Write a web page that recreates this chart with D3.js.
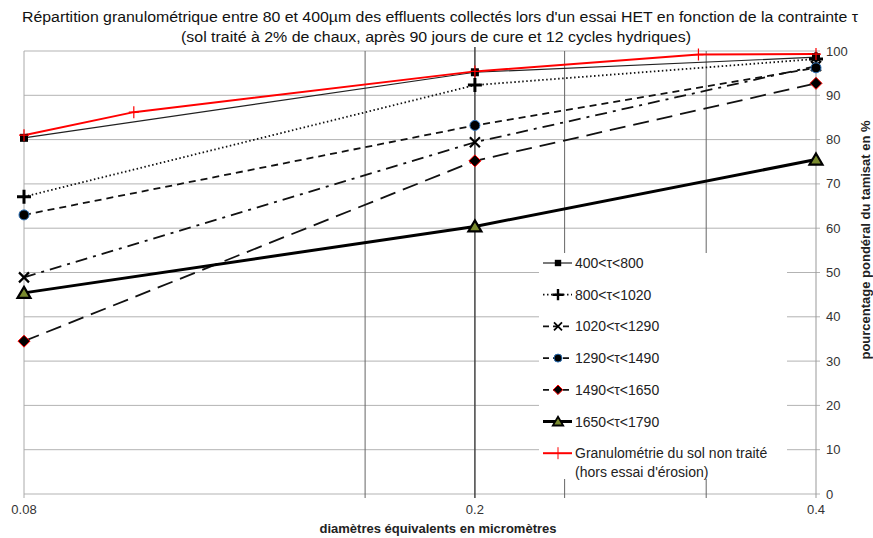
<!DOCTYPE html>
<html><head><meta charset="utf-8">
<script src="https://cdn.jsdelivr.net/npm/d3@7/dist/d3.min.js"></script>
<style>body{margin:0;background:#fff}svg{display:block;font-family:"Liberation Sans",Arial,sans-serif}</style>
</head><body><svg id="c" width="873" height="538"></svg>
<script>
const diameters = [0.08, 0.2, 0.4];
const s400_800   = [80.4, 95.2, 98.6];
const s800_1020  = [67.1, 92.3, 98.2];
const s1020_1290 = [48.9, 79.4, 96.6];
const s1290_1490 = [63.0, 83.2, 96.2];
const s1490_1650 = [34.5, 75.2, 92.7];
const s1650_1790 = [45.4, 60.4, 75.5];
const solDiameters = [0.08, 0.1, 0.2, 0.315, 0.4];
const solValues    = [81.0, 86.2, 95.4, 99.2, 99.3];
const yTicks = [0,10,20,30,40,50,60,70,80,90,100];
const xLabels = [0.08, 0.2, 0.4];
const xGrid = [0.16, 0.24, 0.32];
const labels = ["400<\u03c4<800","800<\u03c4<1020","1020<\u03c4<1290","1290<\u03c4<1490","1490<\u03c4<1650","1650<\u03c4<1790"];
const solLabel = ["Granulom\u00e9trie du sol non trait\u00e9","(hors essai d'\u00e9rosion)"];

const svg = d3.select("#c");
const L=24, R=816, T=51, B=494;
const x = d3.scaleLog().domain([0.08,0.4]).range([L,R]);
const y = d3.scaleLinear().domain([0,100]).range([B,T]);

// title
svg.append("text").attr("x",440).attr("y",22).attr("text-anchor","middle").attr("font-size",15.5).attr("fill","#111")
  .attr("textLength",836).attr("lengthAdjust","spacingAndGlyphs")
  .text("R\u00e9partition granulom\u00e9trique entre 80 et 400\u00b5m des effluents collect\u00e9s lors d'un essai HET en fonction de la contrainte \u03c4");
svg.append("text").attr("x",436).attr("y",42).attr("text-anchor","middle").attr("font-size",15.5).attr("fill","#111")
  .attr("textLength",510).attr("lengthAdjust","spacingAndGlyphs")
  .text("(sol trait\u00e9 \u00e0 2% de chaux, apr\u00e8s 90 jours de cure et 12 cycles hydriques)");

// horizontal grid
svg.append("g").selectAll("line").data(yTicks).join("line")
  .attr("x1",L).attr("x2",R+4).attr("y1",d=>y(d)).attr("y2",d=>y(d))
  .attr("stroke","#b3b3b3").attr("stroke-width",1);
// vertical grid
svg.append("g").selectAll("line").data(xGrid).join("line")
  .attr("x1",d=>x(d)).attr("x2",d=>x(d)).attr("y1",T).attr("y2",B+4)
  .attr("stroke","#666").attr("stroke-width",1);
svg.append("line").attr("x1",x(0.2)).attr("x2",x(0.2)).attr("y1",T-4).attr("y2",B+4).attr("stroke","#444").attr("stroke-width",1.5);
// axes lines
svg.append("line").attr("x1",L).attr("x2",L).attr("y1",T).attr("y2",B+4).attr("stroke","#aaa");
svg.append("line").attr("x1",R).attr("x2",R).attr("y1",T).attr("y2",B+4).attr("stroke","#999");

// legend background box
svg.append("rect").attr("x",539).attr("y",253).attr("width",248).attr("height",226).attr("fill","#fff");

// y labels
svg.append("g").selectAll("text").data(yTicks).join("text")
  .attr("x",R+10).attr("y",d=>y(d)+4.5).attr("font-size",13).attr("fill","#333").text(d=>d);
// x labels
svg.append("g").selectAll("text").data(xLabels).join("text")
  .attr("x",d=>x(d)).attr("y",514).attr("text-anchor","middle").attr("font-size",13).attr("fill","#333").text(d=>d);
svg.append("text").attr("x",438).attr("y",533).attr("text-anchor","middle").attr("font-size",13).attr("font-weight","bold").attr("fill","#222")
  .text("diam\u00e8tres \u00e9quivalents en microm\u00e8tres");
svg.append("text").attr("transform","translate(870,240) rotate(-90)").attr("text-anchor","middle").attr("font-size",13).attr("font-weight","bold").attr("fill","#222")
  .text("pourcentage pond\u00e9ral du tamisat en %");

const series = [
  {v:s400_800, w:1.2, dash:null, color:"#222", marker:"square"},
  {v:s800_1020, w:1.8, dash:"1.5,2.5", color:"#111", marker:"plus"},
  {v:s1020_1290, w:1.8, dash:"12,6,3,6", color:"#111", marker:"x"},
  {v:s1290_1490, w:1.8, dash:"7,5", color:"#111", marker:"circle"},
  {v:s1490_1650, w:1.8, dash:"16,8", color:"#111", marker:"diamond"},
  {v:s1650_1790, w:3, dash:null, color:"#000", marker:"triangle"}
];
const line = d3.line().x(d=>x(d[0])).y(d=>y(d[1]));

function drawMarker(g, type, cx, cy, scale){
  scale = scale||1;
  if(type==="square") g.append("rect").attr("x",cx-4*scale).attr("y",cy-4*scale).attr("width",8*scale).attr("height",8*scale).attr("fill","#000");
  else if(type==="plus") g.append("path").attr("d",`M${cx-7*scale},${cy}H${cx+7*scale}M${cx},${cy-7*scale}V${cy+7*scale}`).attr("stroke","#000").attr("stroke-width",3*scale);
  else if(type==="x") g.append("path").attr("d",`M${cx-5*scale},${cy-5*scale}L${cx+5*scale},${cy+5*scale}M${cx-5*scale},${cy+5*scale}L${cx+5*scale},${cy-5*scale}`).attr("stroke","#000").attr("stroke-width",2.2*scale);
  else if(type==="circle") g.append("circle").attr("cx",cx).attr("cy",cy).attr("r",5*scale).attr("fill","#000").attr("stroke","#2a6fb5").attr("stroke-width",1);
  else if(type==="diamond") g.append("path").attr("d",`M${cx},${cy-6*scale}L${cx+6*scale},${cy}L${cx},${cy+6*scale}L${cx-6*scale},${cy}Z`).attr("fill","#000").attr("stroke","#f00").attr("stroke-width",1);
  else if(type==="triangle") g.append("path").attr("d",`M${cx},${cy-6*scale}L${cx+6.5*scale},${cy+5*scale}L${cx-6.5*scale},${cy+5*scale}Z`).attr("fill","#7a8b2e").attr("stroke","#000").attr("stroke-width",2.2*scale).attr("stroke-linejoin","miter");
  else if(type==="redtick") g.append("path").attr("d",`M${cx-5},${cy}H${cx+5}M${cx},${cy-6}V${cy+6}`).attr("stroke","#f00").attr("stroke-width",1.2);
}

const gl = svg.append("g");
series.forEach(s=>{
  const pts = diameters.map((d,i)=>[d,s.v[i]]);
  gl.append("path").attr("d",line(pts)).attr("fill","none").attr("stroke",s.color).attr("stroke-width",s.w).attr("stroke-dasharray",s.dash);
});
const solPts = solDiameters.map((d,i)=>[d,solValues[i]]);
gl.append("path").attr("d",line(solPts)).attr("fill","none").attr("stroke","#f00").attr("stroke-width",2);
series.forEach(s=>{
  diameters.forEach((d,i)=>drawMarker(gl,s.marker,x(d),y(s.v[i])));
});
solPts.forEach(p=>drawMarker(gl,"redtick",x(p[0]),y(p[1])));

// legend
const lg = svg.append("g");
const ly0 = 263, ldy = 31.7;
series.forEach((s,i)=>{
  const yy = ly0 + i*ldy;
  lg.append("line").attr("x1",543).attr("x2",572).attr("y1",yy).attr("y2",yy).attr("stroke",s.color).attr("stroke-width",s.w)
    .attr("stroke-dasharray", s.dash ? (s.marker==="plus"?"1.5,2.5":"6,4") : null);
  drawMarker(lg,s.marker,558,yy,0.8);
  lg.append("text").attr("x",575).attr("y",yy+5).attr("font-size",14).attr("fill","#222").text(labels[i]);
});
const yr = ly0 + 6*ldy;
lg.append("line").attr("x1",543).attr("x2",572).attr("y1",yr).attr("y2",yr).attr("stroke","#f00").attr("stroke-width",2);
lg.append("path").attr("d",`M558,${yr-6}V${yr+6}`).attr("stroke","#f00").attr("stroke-width",1);
lg.append("text").attr("x",575).attr("y",yr+5).attr("font-size",14).attr("fill","#222").text(solLabel[0]);
lg.append("text").attr("x",575).attr("y",yr+24).attr("font-size",14).attr("fill","#222").text(solLabel[1]);
</script></body></html>
